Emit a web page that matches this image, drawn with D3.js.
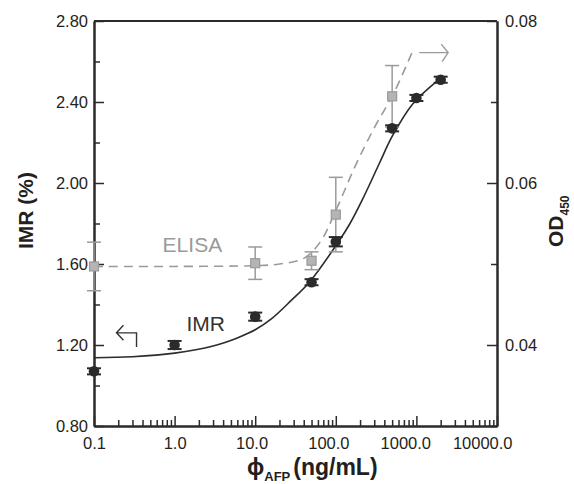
<!DOCTYPE html>
<html>
<head>
  <script src="https://d3js.org/d3.v7.min.js"></script>
  <style>
    body { margin: 0; background: #fff; }
    svg text { font-family: "Liberation Sans", Arial, sans-serif; fill: #231f20; }
  </style>
</head>
<body>
  <div id="chart"></div>
  <script>
    // IMR measurements (left axis)
    const conc = [0.1, 1, 10, 50, 100, 500, 1000, 2000];
    const imr = [1.07, 1.20, 1.34, 1.51, 1.71, 2.27, 2.42, 2.51];
    const imrErr = [0.015, 0.02, 0.02, 0.015, 0.023, 0.015, 0.015, 0.015];

    // fitted IMR curve
    const fitConc = [0.1, 0.3, 1, 3, 6, 10, 16, 28, 47, 100, 150, 215, 350, 500, 900, 1900];
    const fitIMR = [1.137, 1.142, 1.160, 1.195, 1.235, 1.275, 1.33, 1.42, 1.51, 1.69, 1.80, 1.92, 2.10, 2.23, 2.39, 2.51];

    // ELISA measurements (right axis)
    const elisaConc = [0.1, 10, 50, 100, 500];
    const elisaOD = [0.0497, 0.0501, 0.0504, 0.0561, 0.0707];
    const elisaErr = [0.003, 0.002, 0.0011, 0.0046, 0.0038];

    // dashed ELISA curve
    const dashConc = [0.1, 1, 10, 20, 40, 64, 100, 178, 300, 530, 890];
    const dashOD = [0.0497, 0.0497, 0.0498, 0.0500, 0.0507, 0.0527, 0.0566, 0.0623, 0.0668, 0.0712, 0.0762];

    const xMajor = [0.1, 1, 10, 100, 1000, 10000];
    const xLabels = ["0.1", "1.0", "10.0", "100.0", "1000.0", "10000.0"];
    const yLeftMajor = [0.8, 1.2, 1.6, 2.0, 2.4, 2.8];
    const yLeftMinor = [1.0, 1.4, 1.8, 2.2, 2.6];
    const yRightMajor = [0.04, 0.06, 0.08];
    const yRightMinor = [0.03, 0.05, 0.07];

    const width = 574, height = 484;
    const margin = { top: 21, right: 77, bottom: 58, left: 94 };
    const dark = "#2b2b2b", gray = "#9a9a9a";

    const svg = d3.select("#chart").append("svg")
      .attr("width", width)
      .attr("height", height);

    const x = d3.scaleLog().domain([0.1, 10000]).range([margin.left, width - margin.right]);
    const y = d3.scaleLinear().domain([0.8, 2.8]).range([height - margin.bottom, margin.top]);
    const y2 = d3.scaleLinear().domain([0.03, 0.08]).range([height - margin.bottom, margin.top]);

    // minor x ticks 2..9 in each decade
    const xMinor = [];
    for (let d = 0.1; d < 10000; d *= 10) {
      for (let k = 2; k <= 9; k++) xMinor.push(d * k);
    }

    function styleAxis(g) {
      g.selectAll("path").attr("stroke", dark).attr("stroke-width", 2);
      g.selectAll("line").attr("stroke", dark).attr("stroke-width", 1.5);
      g.selectAll("text").attr("font-size", 16.5).attr("fill", "#231f20")
        .style("font-family", '"Liberation Sans", Arial, sans-serif');
    }

    // bottom axis
    svg.append("g")
      .attr("transform", `translate(0,${height - margin.bottom})`)
      .call(d3.axisBottom(x).tickValues(xMinor).tickFormat("").tickSizeInner(-6).tickSizeOuter(0))
      .call(styleAxis);
    svg.append("g")
      .attr("transform", `translate(0,${height - margin.bottom})`)
      .call(d3.axisBottom(x).tickValues(xMajor).tickFormat((d, i) => xLabels[i])
        .tickSizeInner(-10).tickSizeOuter(0).tickPadding(11))
      .call(styleAxis)
      .call(g => g.selectAll("text")
        .attr("dx", (d, i) => -(xLabels[i].length - 3) * 3.7));

    // left axis
    svg.append("g")
      .attr("transform", `translate(${margin.left},0)`)
      .call(d3.axisLeft(y).tickValues(yLeftMinor).tickFormat("").tickSizeInner(-6).tickSizeOuter(0))
      .call(styleAxis);
    svg.append("g")
      .attr("transform", `translate(${margin.left},0)`)
      .call(d3.axisLeft(y).tickValues(yLeftMajor).tickFormat(d3.format(".2f"))
        .tickSizeInner(-10).tickSizeOuter(0).tickPadding(6))
      .call(styleAxis);

    // right axis
    svg.append("g")
      .attr("transform", `translate(${width - margin.right},0)`)
      .call(d3.axisRight(y2).tickValues(yRightMinor).tickFormat("").tickSizeInner(-6).tickSizeOuter(0))
      .call(styleAxis);
    svg.append("g")
      .attr("transform", `translate(${width - margin.right},0)`)
      .call(d3.axisRight(y2).tickValues(yRightMajor).tickFormat(d3.format(".2f"))
        .tickSizeInner(-10).tickSizeOuter(0).tickPadding(8))
      .call(styleAxis);

    // top frame line
    svg.append("line")
      .attr("x1", margin.left).attr("x2", width - margin.right)
      .attr("y1", margin.top).attr("y2", margin.top)
      .attr("stroke", dark).attr("stroke-width", 2);

    // axis titles
    svg.append("text")
      .attr("transform", `translate(33,${(margin.top + height - margin.bottom) / 2 - 13}) rotate(-90)`)
      .attr("text-anchor", "middle")
      .attr("font-size", 21).attr("font-weight", "bold")
      .text("IMR (%)");

    const od = svg.append("text")
      .attr("transform", `translate(563,247) rotate(-90)`)
      .attr("font-size", 21).attr("font-weight", "bold");
    od.append("tspan").text("OD");
    od.append("tspan").attr("font-size", 12).attr("dy", 6).text("450");

    const xt = svg.append("text")
      .attr("x", 247).attr("y", 475)
      .attr("font-size", 23).attr("font-weight", "bold");
    xt.append("tspan").text("ϕ");
    xt.append("tspan").attr("font-size", 13).attr("dy", 6).text("AFP");
    xt.append("tspan").attr("dy", -6).attr("dx", 3).text("(ng/mL)");

    // ELISA dashed curve
    const elisaLine = d3.line()
      .x((d, i) => x(dashConc[i]))
      .y(d => y2(d))
      .curve(d3.curveCatmullRom.alpha(0.5));
    svg.append("path")
      .datum(dashOD)
      .attr("d", elisaLine)
      .attr("fill", "none")
      .attr("stroke", gray)
      .attr("stroke-width", 1.6)
      .attr("stroke-dasharray", "9,6");

    // IMR fitted curve
    const fitLine = d3.line()
      .x((d, i) => x(fitConc[i]))
      .y(d => y(d))
      .curve(d3.curveCatmullRom.alpha(0.5));
    svg.append("path")
      .datum(fitIMR)
      .attr("d", fitLine)
      .attr("fill", "none")
      .attr("stroke", dark)
      .attr("stroke-width", 1.6);

    // ELISA error bars and squares
    const eg = svg.append("g");
    elisaConc.forEach((c, i) => {
      const cx = x(c);
      const lo = y2(elisaOD[i] - elisaErr[i]), hi = y2(elisaOD[i] + elisaErr[i]);
      eg.append("line").attr("x1", cx).attr("x2", cx).attr("y1", lo).attr("y2", hi)
        .attr("stroke", gray).attr("stroke-width", 1.5);
      [lo, hi].forEach(v => eg.append("line")
        .attr("x1", cx - 7).attr("x2", cx + 7).attr("y1", v).attr("y2", v)
        .attr("stroke", gray).attr("stroke-width", 1.5));
      eg.append("rect")
        .attr("x", cx - 4.5).attr("y", y2(elisaOD[i]) - 4.5)
        .attr("width", 9).attr("height", 9)
        .attr("fill", "#b4b4b4").attr("stroke", gray).attr("stroke-width", 1.2);
    });

    // IMR error bars and circles
    const ig = svg.append("g");
    conc.forEach((c, i) => {
      const cx = x(c);
      const lo = y(imr[i] - imrErr[i]), hi = y(imr[i] + imrErr[i]);
      ig.append("line").attr("x1", cx).attr("x2", cx).attr("y1", lo).attr("y2", hi)
        .attr("stroke", dark).attr("stroke-width", 1.5);
      [lo, hi].forEach(v => ig.append("line")
        .attr("x1", cx - 7).attr("x2", cx + 7).attr("y1", v).attr("y2", v)
        .attr("stroke", dark).attr("stroke-width", 2));
      ig.append("circle")
        .attr("cx", cx).attr("cy", y(imr[i]))
        .attr("r", 5.3)
        .attr("fill", dark);
    });

    // series labels
    svg.append("text")
      .attr("x", x(0.71)).attr("y", y(1.657))
      .attr("font-size", 21)
      .style("fill", gray)
      .text("ELISA");
    svg.append("text")
      .attr("x", x(1.4)).attr("y", y(1.269))
      .attr("font-size", 21)
      .style("fill", "#333")
      .text("IMR");

    // hooked arrow pointing to the left axis
    const la = { x0: 0.19, x1: 0.337, yTop: 1.26, yBot: 1.19 };
    svg.append("path")
      .attr("d", `M${x(la.x0) + 7},${y(la.yTop) - 7.5} L${x(la.x0)},${y(la.yTop)} L${x(la.x0) + 7},${y(la.yTop) + 7.5}
                  M${x(la.x0)},${y(la.yTop)} L${x(la.x1)},${y(la.yTop)} L${x(la.x1)},${y(la.yBot)}`)
      .attr("fill", "none").attr("stroke", "#333").attr("stroke-width", 1.4);

    // arrow pointing to the right axis
    const ra = { x0: 1084, x1: 2477, yv: 0.0761 };
    svg.append("path")
      .attr("d", `M${x(ra.x0)},${y2(ra.yv)} L${x(ra.x1)},${y2(ra.yv)}
                  M${x(ra.x1) - 7},${y2(ra.yv) - 8.5} L${x(ra.x1)},${y2(ra.yv)} L${x(ra.x1) - 6},${y2(ra.yv) + 9}`)
      .attr("fill", "none").attr("stroke", gray).attr("stroke-width", 1.4);
  </script>
</body>
</html>
